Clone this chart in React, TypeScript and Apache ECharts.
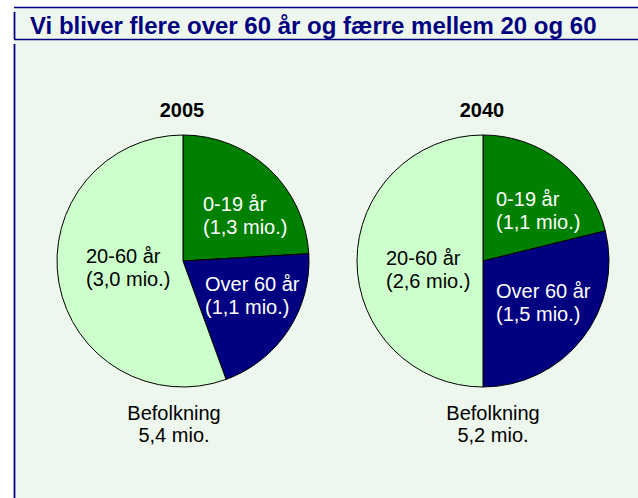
import React, { useEffect, useRef } from "react";
import * as echarts from "echarts";

const years = ["2005", "2040"];
const groups = ["0-19 år", "Over 60 år", "20-60 år"];
const values2005 = [1.3, 1.1, 3.0];
const values2040 = [1.1, 1.5, 2.6];
const totals = ["5,4", "5,2"];
const mainTitle = "Vi bliver flere over 60 år og færre mellem 20 og 60";

const sliceColors = ["#008000", "#000080", "#CCFFCC"];
const labelColors = ["#FFFFFF", "#FFFFFF", "#000000"];
const FONT = 'Arial, "Liberation Sans", Helvetica, sans-serif';
const NAVY = "#000080";
const BG = "#EEF7EE";

// label block anchor positions (left, vertical middle) per pie / slice
const labelPos = [
  [[203, 215], [205, 295], [86, 267]],
  [[496, 210], [496, 302], [386, 269]],
];
const pieCenters = [[183, 261], [483, 261]];
const totalX = [174, 493];

const fmt = (v: number) => v.toFixed(1).replace(".", ",");

export default function App() {
  const ref = useRef<HTMLDivElement>(null);
  useEffect(() => {
    if (!ref.current) return;
    const chart = echarts.init(ref.current, null, { renderer: "svg" });
    const allValues = [values2005, values2040];
    const series = allValues.map((vals, s) => ({
      type: "pie",
      center: pieCenters[s],
      radius: 126,
      startAngle: 90,
      clockwise: true,
      silent: true,
      data: vals.map((v, i) => ({
        name: groups[i],
        value: v,
        itemStyle: { color: sliceColors[i] },
        label: { color: labelColors[i] },
      })),
      itemStyle: { borderColor: "#000000", borderWidth: 1 },
      label: {
        show: true,
        position: "inside",
        formatter: (p: any) => `${p.name}\n(${fmt(p.value)} mio.)`,
        fontSize: 20,
        lineHeight: 23,
        fontFamily: FONT,
        align: "left",
      },
      labelLine: { show: false },
      labelLayout: (p: any) => ({
        x: labelPos[s][p.dataIndex][0],
        y: labelPos[s][p.dataIndex][1],
        align: "left",
        verticalAlign: "middle",
      }),
    }));

    const graphic: any[] = [
      { type: "rect", shape: { x: 14, y: 7, width: 624, height: 491 }, style: { fill: BG }, silent: true, z: -10 },
      { type: "line", shape: { x1: 14, y1: 7.5, x2: 638, y2: 7.5 }, style: { stroke: NAVY, lineWidth: 1.5 }, silent: true },
      { type: "line", shape: { x1: 14.5, y1: 12, x2: 14.5, y2: 39 }, style: { stroke: NAVY, lineWidth: 1.8 }, silent: true },
      { type: "line", shape: { x1: 14, y1: 39.5, x2: 638, y2: 39.5 }, style: { stroke: NAVY, lineWidth: 1.5 }, silent: true },
      { type: "line", shape: { x1: 14.5, y1: 44, x2: 14.5, y2: 498 }, style: { stroke: NAVY, lineWidth: 1.8 }, silent: true },
      {
        type: "text",
        x: 30,
        y: 25,
        style: { text: mainTitle, fill: NAVY, font: `bold 24px ${FONT}`, align: "left", verticalAlign: "middle" },
        silent: true,
      },
    ];
    years.forEach((yr, s) => {
      graphic.push({
        type: "text",
        x: pieCenters[s][0] - 1,
        y: 110,
        style: { text: yr, fill: "#000000", font: `bold 20px ${FONT}`, align: "center", verticalAlign: "middle" },
        silent: true,
      });
      graphic.push({
        type: "text",
        x: totalX[s],
        y: 424,
        style: {
          text: `Befolkning\n${totals[s]} mio.`,
          fill: "#000000",
          font: `20px ${FONT}`,
          lineHeight: 22,
          align: "center",
          verticalAlign: "middle",
        },
        silent: true,
      });
    });

    chart.setOption({
      animation: false,
      backgroundColor: "#FFFFFF",
      graphic,
      series,
    });
    return () => chart.dispose();
  }, []);
  return (
    <div
      ref={ref}
      style={{ position: "fixed", left: 0, top: 0, width: 638, height: 498 }}
    />
  );
}
